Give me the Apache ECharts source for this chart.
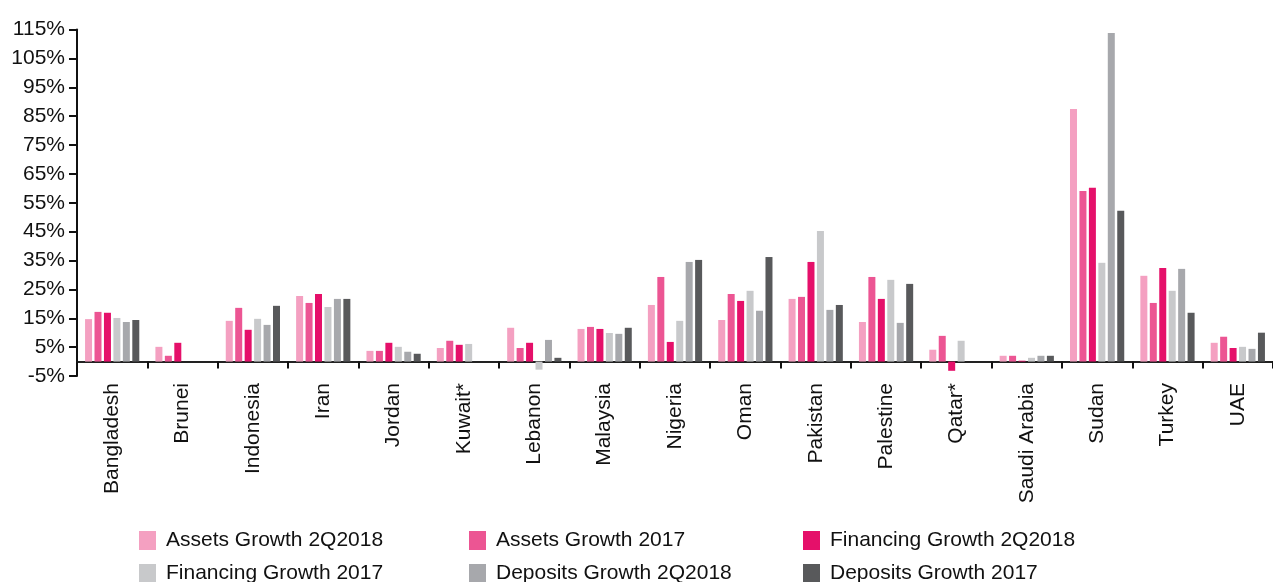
<!DOCTYPE html>
<html>
<head>
<meta charset="utf-8">
<script src="https://cdn.jsdelivr.net/npm/echarts@6/dist/echarts.min.js"></script>
<style>
html,body{margin:0;padding:0;background:#fff;}
#chart{width:1273px;height:582px;}
</style>
</head>
<body>
<div id="chart"></div>
<script>
const categories = ['Bangladesh','Brunei','Indonesia','Iran','Jordan','Kuwait*','Lebanon','Malaysia','Nigeria','Oman','Pakistan','Palestine','Qatar*','Saudi Arabia','Sudan','Turkey','UAE'];
const seriesNames = ['Assets Growth 2Q2018','Assets Growth 2017','Financing Growth 2Q2018','Financing Growth 2017','Deposits Growth 2Q2018','Deposits Growth 2017'];
const assets2Q2018    = [14.7, 5.1, 14.1, 22.7, 3.7, 4.7, 11.7, 11.3, 19.6, 14.4, 21.7, 13.7, 4.1, 2.0, 87.5, 29.7, 6.5];
const assets2017      = [17.2, 2.0, 18.6, 20.3, 3.7, 7.2, 4.7, 12.0, 29.3, 23.4, 22.4, 29.3, 8.9, 2.0, 59.1, 20.3, 8.6];
const financing2Q2018 = [16.9, 6.5, 11.0, 23.4, 6.5, 5.8, 6.5, 11.3, 6.8, 21.0, 34.5, 21.7, -3.2, 0.3, 60.2, 32.4, 4.7];
const financing2017   = [15.1, null, 14.8, 18.9, 5.1, 6.1, -2.8, 9.9, 14.1, 24.5, 45.2, 28.3, 7.2, 1.3, 34.2, 24.5, 5.1];
const deposits2Q2018  = [13.7, null, 12.7, 21.7, 3.4, null, 7.5, 9.6, 34.5, 17.6, 17.9, 13.4, null, 2.0, 113.8, 32.1, 4.4];
const deposits2017    = [14.4, null, 19.3, 21.7, 2.7, null, 1.3, 11.7, 35.2, 36.2, 19.6, 26.9, null, 2.0, 52.2, 16.9, 10.0];
const yTicks = {min: -5, max: 115, interval: 10};

const colors = ['#F4A0C1','#EC5593','#E5106A','#C8C9CB','#A7A8AC','#58595B'];
const dataSets = [assets2Q2018, assets2017, financing2Q2018, financing2017, deposits2Q2018, deposits2017];
const font = "'Liberation Sans', Arial, sans-serif";

const legendPos = [[139,530],[469,530],[803,530],[139,563],[469,563],[803,563]];

const chart = echarts.init(document.getElementById('chart'), null, {renderer:'canvas'});
chart.setOption({
  animation: false,
  color: colors,
  grid: {left: 77, right: -8, top: 29.5, bottom: 206, containLabel: false},
  legend: seriesNames.map((n, i) => ({
    data: [n],
    left: legendPos[i][0],
    top: legendPos[i][1],
    padding: 0,
    icon: 'rect',
    itemWidth: 17,
    itemHeight: 19,
    selectedMode: false,
    textStyle: {fontFamily: font, fontSize: 21, color: '#111', padding: [0,0,0,5]}
  })),
  xAxis: {
    type: 'category',
    data: categories,
    axisLine: {onZero: true, lineStyle: {color: '#222', width: 2}},
    axisTick: {show: true, length: 7, lineStyle: {color: '#111', width: 2}},
    axisLabel: {rotate: 90, margin: 7, fontFamily: font, fontSize: 21, color: '#111', interval: 0},
    splitLine: {show: false}
  },
  yAxis: {
    type: 'value',
    min: yTicks.min, max: yTicks.max, interval: yTicks.interval,
    axisLine: {show: true, lineStyle: {color: '#111', width: 2}},
    axisTick: {show: true, length: 8, lineStyle: {color: '#111', width: 2}},
    axisLabel: {margin: 12, fontFamily: font, fontSize: 21, color: '#111', formatter: v => v + '%'},
    splitLine: {show: false}
  },
  series: seriesNames.map((n, i) => ({
    name: n,
    type: 'bar',
    data: dataSets[i],
    barWidth: 7,
    barGap: '35%',
    itemStyle: {color: colors[i]}
  }))
});
</script>
</body>
</html>
